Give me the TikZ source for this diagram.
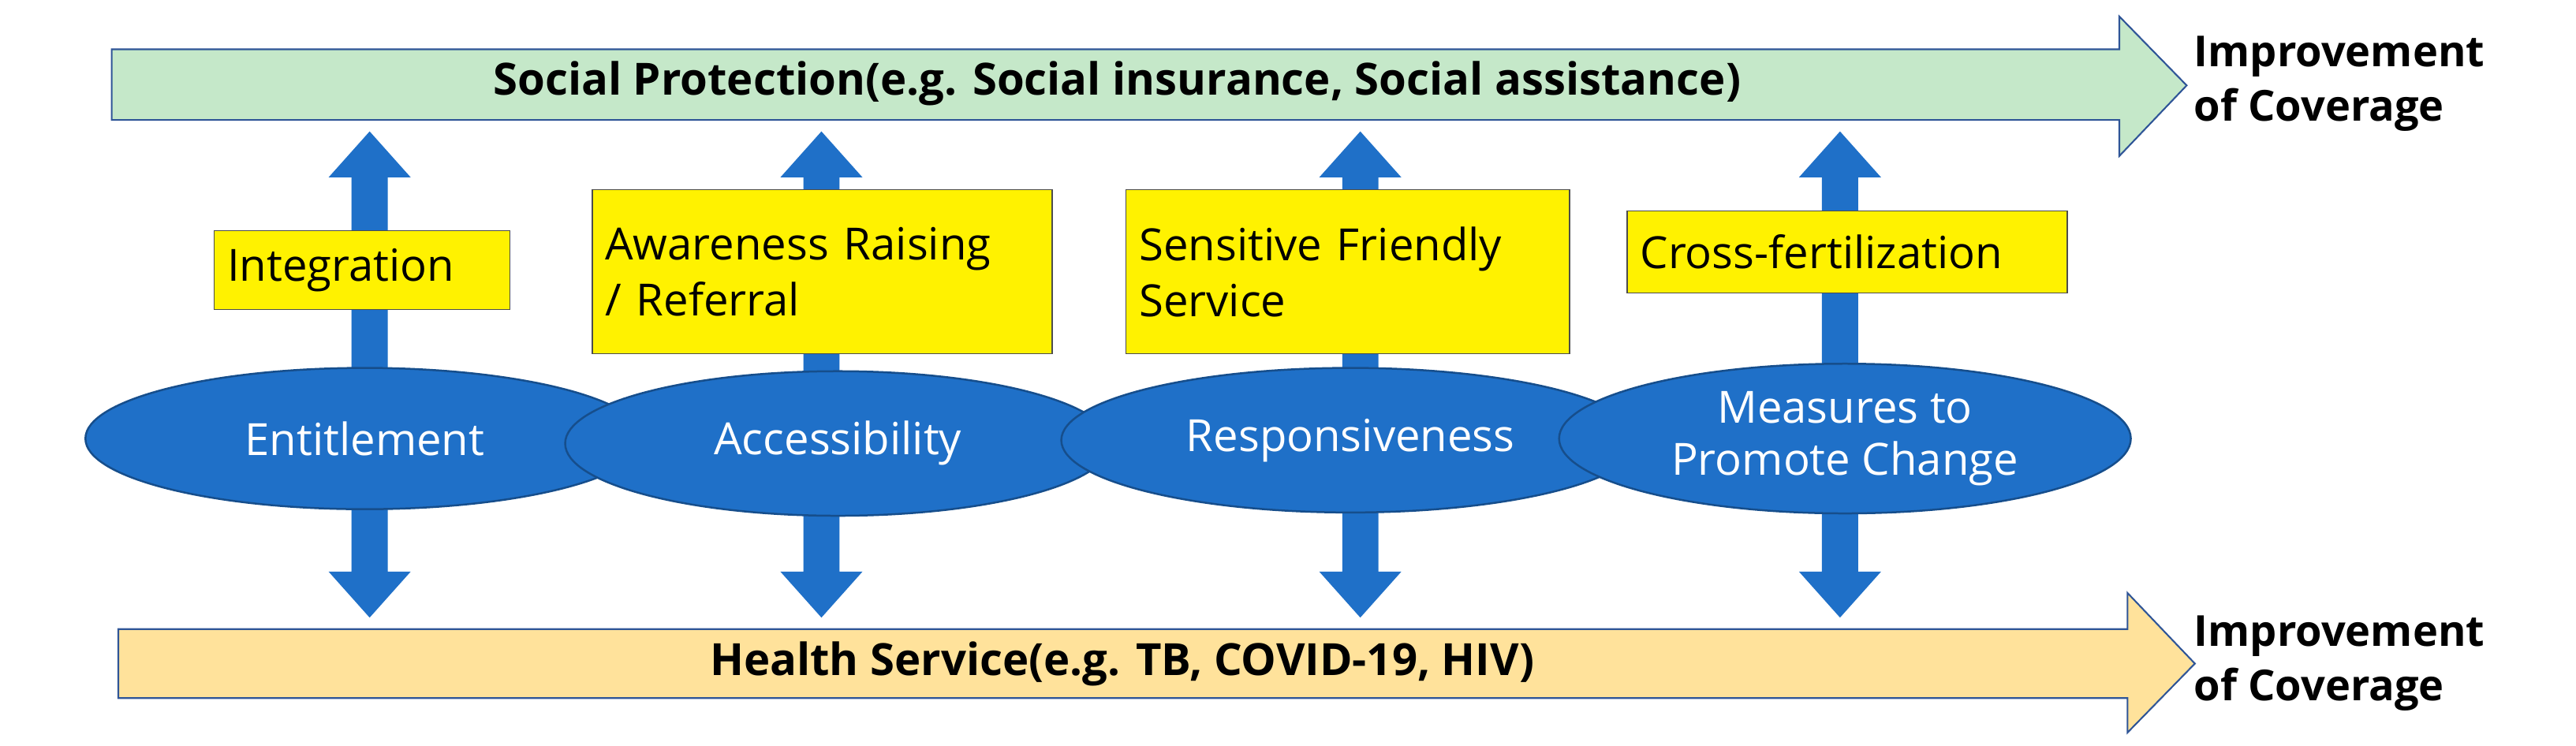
\documentclass[tikz,border=0pt]{standalone}
\usepackage{fontspec}
\setmainfont{Open Sans}
\begin{document}
\begin{tikzpicture}[x=1pt,y=-1pt,
  ell/.style={ellipse,draw=blu!70!black,line width=1.2pt,fill=blu,text=white,font=\fontsize{27}{32}\selectfont,align=center},
  ybox/.style={draw=black!70,line width=0.8pt,fill=yellow,font=\fontsize{27}{34}\selectfont,align=left,anchor=north west,inner xsep=8pt},
  ttl/.style={font=\bfseries\fontsize{27}{30}\selectfont},
  side/.style={font=\bfseries\fontsize{26}{33}\selectfont,align=left,anchor=west}]
\usetikzlibrary{shapes.geometric}
\definecolor{blu}{HTML}{1F70C8}
\definecolor{grn}{HTML}{C5E8C9}
\definecolor{org}{HTML}{FFE29B}
\definecolor{edg}{HTML}{2F5597}
\useasboundingbox (0,0) rectangle (1568,454);
% big arrows
\draw[edg,line width=1pt,fill=grn] (68,30)--(1290,30)--(1290,10)--(1331,52)--(1290,95)--(1290,73)--(68,73)--cycle;
\draw[edg,line width=1pt,fill=org] (72,383)--(1295,383)--(1295,361)--(1336,404)--(1295,446)--(1295,425)--(72,425)--cycle;
\node[ttl] (sp) at (680,51) {Social Protection(e.g. Social insurance, Social assistance)};
\node[ttl] (hs) at (683,404) {Health Service(e.g. TB, COVID-19, HIV)};
\node[side] (i1) at (1332,51) {Improvement\\of Coverage};
\node[side] (i2) at (1332,404) {Improvement\\of Coverage};
% vertical double arrows
\foreach \x in {225,500,828,1120}{
 \fill[blu] (\x,80)--(\x+25,108)--(\x+11,108)--(\x+11,348)--(\x+25,348)--(\x,376)--(\x-25,348)--(\x-11,348)--(\x-11,108)--(\x-25,108)--cycle;}
% ellipses
\node[ell,minimum width=340,minimum height=86] (e1) at (222,267) {Entitlement};
\node[ell,minimum width=332,minimum height=88] (e2) at (510,270) {Accessibility};
\node[ell,minimum width=352,minimum height=88] (e3) at (822,268) {Responsiveness};
\node[ell,minimum width=348,minimum height=88] (e4) at (1123,267) {Measures to\\Promote Change};
% yellow boxes
\node[ybox,text width=164,minimum height=48] (b1) at (130,140) {Integration};
\node[ybox,text width=264,minimum height=100,inner ysep=6pt] (b2) at (360,115) {Awareness Raising\\/ Referral};
\node[ybox,text width=254,minimum height=100,inner ysep=6pt] (b3) at (685,115) {Sensitive Friendly\\Service};
\node[ybox,text width=252,minimum height=50] (b4) at (990,128) {Cross-fertilization};
\end{tikzpicture}
\end{document}
